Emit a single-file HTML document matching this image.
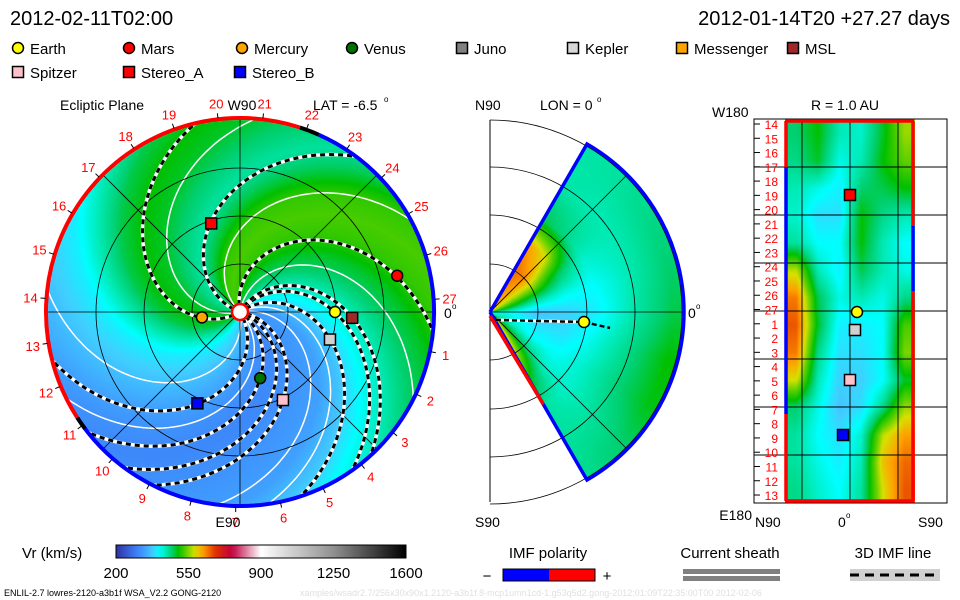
<!DOCTYPE html>
<html><head><meta charset="utf-8">
<style>
body{margin:0;background:#fff;width:960px;height:600px;overflow:hidden;position:relative;font-family:"Liberation Sans",sans-serif}
canvas{position:absolute}
svg{position:absolute;left:0;top:0}
</style></head><body>
<canvas id="cEcl" width="400" height="400" style="left:40px;top:112px"></canvas>
<canvas id="cMer" width="200" height="400" style="left:490px;top:112px"></canvas>
<canvas id="cR" width="130" height="384" style="left:785px;top:119px"></canvas>
<svg id="ov" width="960" height="600"></svg>
<script>
// ---------- data ----------
const speedStops=[200,300,340,380,410,440,470,500,540,580,620,680,760,900,1250,1600];
const colorStops=["#3030a0","#3c80f8","#40a0ff","#40d0ff","#00ffff","#00eab4","#00d070","#00c000","#60d000","#d8e000","#ffa000","#e03000","#c00040","#ffffff","#909090","#000000"];
const profileSpeeds=[330,320,310,320,340,360,380,400,440,480,500,490,470,450,480,520,530,520,490,470,440,410,370,340];
const spiralK=0.55;
const dashedSources=[-160,150,-101,-52,-59,-35,10,35,59,20];
const whiteSources=[-135,168,-80,-25,47,80,-10];
const bodyNames=["Earth","Mars","Mercury","Venus","Kepler","MSL","Spitzer","Stereo_A","Stereo_B"];
const bodyR=[0.99,1.68,0.40,0.72,0.98,1.17,1.02,0.97,1.05];
const bodyPhi=[0,-13,172,73,17,3,64,-108,115];
const bodyFill=["#ffff00","#ff0000","#ffa500","#007000","#d0d0d0","#a02828","#ffc0cb","#ff0000","#0000ff"];
const bodyShape=["c","c","c","c","s","s","s","s","s"];
const merLats=[60,45,30,15,0,-15,-30,-45,-60];
const merRadii=[15,48,77,106,144,182];
const merGrid=[[620,650,620,480,445,445],[600,630,580,460,440,450],[560,550,480,430,440,460],[500,450,420,410,440,470],[420,370,380,400,445,480],[430,390,390,420,460,500],[450,410,410,430,465,495],[520,470,430,430,450,470],[630,580,500,450,450,455]];
const rGrid=[[470,500,440,430,490,560],[460,490,420,440,500,540],[440,420,400,470,480,500],[430,390,390,500,460,440],[450,410,410,500,440,410],[570,440,400,480,440,420],[640,480,420,440,420,460],[660,490,400,400,410,530],[640,460,390,390,410,550],[580,440,380,380,410,490],[470,420,370,390,460,560],[450,410,390,430,570,620],[450,420,400,440,600,650],[460,430,410,450,580,660]];
const rimLabels=["0","1","2","3","4","5","6","7","8","9","10","11","12","13","14","15","16","17","18","19","20","21","22","23","24","25","26","27"];
const rowLabels=["14","15","16","17","18","19","20","21","22","23","24","25","26","27","1","2","3","4","5","6","7","8","9","10","11","12","13"];
const cbTicks=[200,550,900,1250,1600];
// ---------- helpers ----------
function hex(h){return [parseInt(h.substr(1,2),16),parseInt(h.substr(3,2),16),parseInt(h.substr(5,2),16)];}
const cs=colorStops.map(hex);
function cmap(v){
  if(v<=speedStops[0])return cs[0];
  for(let i=1;i<speedStops.length;i++){if(v<=speedStops[i]){const t=(v-speedStops[i-1])/(speedStops[i]-speedStops[i-1]);const a=cs[i-1],b=cs[i];return [a[0]+(b[0]-a[0])*t,a[1]+(b[1]-a[1])*t,a[2]+(b[2]-a[2])*t];}}
  return cs[cs.length-1];
}
function bil(g,fy,fx){
  const ny=g.length,nx=g[0].length;
  fy=Math.max(0,Math.min(ny-1,fy));fx=Math.max(0,Math.min(nx-1,fx));
  const y0=Math.floor(fy),x0=Math.floor(fx),y1=Math.min(ny-1,y0+1),x1=Math.min(nx-1,x0+1);
  const ty=fy-y0,tx=fx-x0;
  return g[y0][x0]*(1-ty)*(1-tx)+g[y0][x1]*(1-ty)*tx+g[y1][x0]*ty*(1-tx)+g[y1][x1]*ty*tx;
}
function interpIdx(arr,v){for(let i=0;i<arr.length-1;i++){const a=arr[i],b=arr[i+1];if((v-a)*(v-b)<=0)return i+(v-a)/(b-a);}return v<arr[0]===(arr[0]<arr[1])?0:arr.length-1;}
// ---------- ecliptic canvas ----------
(function(){
  const c=document.getElementById('cEcl'),ctx=c.getContext('2d'),im=ctx.createImageData(400,400);
  const n=profileSpeeds.length;
  for(let y=0;y<400;y++)for(let x=0;x<400;x++){
    const dx=x-200,dy=y-200,r=Math.hypot(dx,dy);if(r>193)continue;
    let phi=Math.atan2(dy,dx)*180/Math.PI-spiralK*r;phi=((phi%360)+360)%360;
    const f=phi/360*n,i0=Math.floor(f)%n,i1=(i0+1)%n,t=f-Math.floor(f);
    const v=profileSpeeds[i0]*(1-t)+profileSpeeds[i1]*t;
    const col=cmap(v),k=(y*400+x)*4;im.data[k]=col[0];im.data[k+1]=col[1];im.data[k+2]=col[2];im.data[k+3]=255;
  }
  ctx.putImageData(im,0,0);
})();
// ---------- meridional canvas ----------
(function(){
  const c=document.getElementById('cMer'),ctx=c.getContext('2d'),im=ctx.createImageData(200,400);
  for(let y=0;y<400;y++)for(let x=0;x<200;x++){
    const dx=x,dy=200-y,r=Math.hypot(dx,dy);if(r>193||r<2)continue;
    const lat=Math.atan2(dy,dx)*180/Math.PI;if(Math.abs(lat)>60)continue;
    const v=bil(merGrid,(60-lat)/15,interpIdx(merRadii,r));
    const col=cmap(v),k=(y*200+x)*4;im.data[k]=col[0];im.data[k+1]=col[1];im.data[k+2]=col[2];im.data[k+3]=255;
  }
  ctx.putImageData(im,0,0);
})();
// ---------- R canvas ----------
(function(){
  const c=document.getElementById('cR'),ctx=c.getContext('2d'),im=ctx.createImageData(130,384);
  const ny=rGrid.length,nx=rGrid[0].length;
  for(let y=0;y<384;y++)for(let x=0;x<130;x++){
    const v=bil(rGrid,(y/384)*ny-0.5,(x/130)*nx-0.5);
    const col=cmap(v),k=(y*130+x)*4;im.data[k]=col[0];im.data[k+1]=col[1];im.data[k+2]=col[2];im.data[k+3]=255;
  }
  ctx.putImageData(im,0,0);
})();
// ---------- overlay SVG ----------
const NS="http://www.w3.org/2000/svg",svg=document.getElementById('ov');
function el(tag,attrs,parent){const e=document.createElementNS(NS,tag);for(const k in attrs)e.setAttribute(k,attrs[k]);(parent||svg).appendChild(e);return e;}
function txt(x,y,s,size,fill,anchor,name){const t=el('text',{x:x,y:y,'font-size':size,fill:fill||'#000','text-anchor':anchor||'start','font-family':'Liberation Sans, sans-serif'});t.textContent=s;


return t;}
const CX=240,CY=312,RR=193,AU=96;
const dd=Math.PI/180;
const defs=el('defs',{});const cp=el('clipPath',{id:'diskclip'},defs);el('circle',{cx:CX,cy:CY,r:RR},cp);
const g=el('g',{'clip-path':'url(#diskclip)'});


function spiral(phi0){let d="";for(let r=7;r<=200;r+=3){const a=(phi0+spiralK*r)*dd;d+=(r===7?"M":"L")+(CX+r*Math.cos(a)).toFixed(1)+","+(CY+r*Math.sin(a)).toFixed(1);}return d;}
whiteSources.forEach(p=>{const l=el('path',{d:spiral(p),fill:'none',stroke:'#fff','stroke-width':1.5},g);

});
[48,96,144].forEach(r=>{const c=el('circle',{cx:CX,cy:CY,r:r,fill:'none',stroke:'#000','stroke-width':0.8},g);

});
[0,45,90,135].forEach(a=>{const l=el('line',{x1:CX-RR*Math.cos(a*dd),y1:CY-RR*Math.sin(a*dd),x2:CX+RR*Math.cos(a*dd),y2:CY+RR*Math.sin(a*dd),stroke:'#000','stroke-width':0.8},g);

});
dashedSources.forEach(p=>{
  const w=el('path',{d:spiral(p),fill:'none',stroke:'#fff','stroke-width':3.5},g);
  
  
  const b=el('path',{d:spiral(p),fill:'none',stroke:'#000','stroke-width':3,'stroke-dasharray':'5,4'},g);
  
  
});
function arc(a0,a1,color){const r=RR+1;const p=el('path',{d:`M${CX+r*Math.cos(a0*dd)},${CY+r*Math.sin(a0*dd)} A${r},${r} 0 ${(a1-a0)>180?1:0} 1 ${CX+r*Math.cos(a1*dd)},${CY+r*Math.sin(a1*dd)}`,fill:'none',stroke:color,'stroke-width':4});

}
arc(147,288,'#ff0000');arc(288,294,'#000');arc(294,507,'#0000ff');arc(143,147,'#000');
const sun=el('circle',{cx:CX,cy:CY,r:8,fill:'#fff',stroke:'#ff0000','stroke-width':2.5});


rimLabels.forEach((s,i)=>{if(i===0)return;const a=(i*13.25-1.5)*dd;txt(CX+210*Math.cos(a),CY+210*Math.sin(a)+5,s,13,'#ff0000','middle','rim-label-'+s);
 const tk=el('line',{x1:CX+195*Math.cos(a),y1:CY+195*Math.sin(a),x2:CX+200*Math.cos(a),y2:CY+200*Math.sin(a),stroke:'#000','stroke-width':1});
 });
txt(444,318,'0',14,'#000','start','zero-label');txt(452,309,'o',8,'#000','start','deg');
bodyNames.forEach((n,i)=>{
  const a=bodyPhi[i]*dd,x=CX+bodyR[i]*AU*Math.cos(a),y=CY+bodyR[i]*AU*Math.sin(a);
  let m;
  if(bodyShape[i]==='c')m=el('circle',{cx:x,cy:y,r:5.5,fill:bodyFill[i],stroke:'#000','stroke-width':1.5});
  else m=el('rect',{x:x-5.5,y:y-5.5,width:11,height:11,fill:bodyFill[i],stroke:'#000','stroke-width':1.5});
  
  
});
// ---- meridional panel ----
const MX=490,MY=312;
el('line',{x1:MX,y1:120,x2:MX,y2:502,stroke:'#000','stroke-width':1});
[48,97,145,192].forEach(r=>{const p=el('path',{d:`M${MX},${MY-r} A${r},${r} 0 0 1 ${MX},${MY+r}`,fill:'none',stroke:'#000','stroke-width':0.8});

});
[45,0,-45].forEach(a=>{const l=el('line',{x1:MX,y1:MY,x2:MX+193*Math.cos(a*dd),y2:MY-193*Math.sin(a*dd),stroke:'#000','stroke-width':0.8});

});
(function(){const r=194,a=60*dd;
const p=el('path',{d:`M${MX},${MY} L${MX+r*Math.cos(a)},${MY-r*Math.sin(a)} A${r},${r} 0 0 1 ${MX+r*Math.cos(a)},${MY+r*Math.sin(a)} L${MX},${MY}`,fill:'none',stroke:'#0000ff','stroke-width':3.5});


const q=el('line',{x1:MX,y1:MY+4,x2:MX+r*Math.cos(a)*0.55,y2:MY+r*Math.sin(a)*0.55,stroke:'#ff0000','stroke-width':3.5});

})();
const mw=el('path',{d:`M${MX+6},${MY+8} L${MX+94},${MY+10}`,stroke:'#fff','stroke-width':3,fill:'none'});

const md=el('path',{d:`M${MX+6},${MY+8} L${MX+94},${MY+10} L${MX+120},${MY+16}`,stroke:'#000','stroke-width':2.5,'stroke-dasharray':'5,3',fill:'none'});

const me=el('circle',{cx:584,cy:322,r:5.5,fill:'#ff0',stroke:'#000','stroke-width':1.5});

txt(688,318,'0',14,'#000','start','zero-label');txt(696,309,'o',8,'#000','start','deg');
// ---- R panel ----
const fr=el('rect',{x:754,y:119,width:193,height:384,fill:'none',stroke:'#000','stroke-width':1});

[802,850,898].forEach(x=>{const l=el('line',{x1:x,y1:119,x2:x,y2:503,stroke:'#000','stroke-width':0.9});});
[167,215,263,311,359,407,455].forEach(y=>{const l=el('line',{x1:754,y1:y,x2:947,y2:y,stroke:'#000','stroke-width':0.9});});
function seg(x1,y1,x2,y2,c){const l=el('line',{x1:x1,y1:y1,x2:x2,y2:y2,stroke:c,'stroke-width':3.5});}
seg(785,121,914,121,'#f00');seg(785,501,914,501,'#f00');
seg(786,121,786,167,'#f00');seg(786,167,786,414,'#00f');seg(786,414,786,501,'#f00');
seg(913,121,913,226,'#f00');seg(913,226,913,291,'#00f');seg(913,291,913,501,'#f00');
rowLabels.forEach((s,i)=>{const y=124+i*14.27;txt(778,y+5,s,12,'#f00','end','row-label-'+s);const t=el('line',{x1:754,y1:y,x2:760,y2:y,stroke:'#000'});});
[["s",850,195,"#f00"],["c",857,312,"#ff0"],["s",855,330,"#d0d0d0"],["s",850,380,"#ffc0cb"],["s",843,435,"#00f"]].forEach(b=>{
 let m=b[0]==='c'?el('circle',{cx:b[1],cy:b[2],r:5.5,fill:b[3],stroke:'#000','stroke-width':1.5}):el('rect',{x:b[1]-5.5,y:b[2]-5.5,width:11,height:11,fill:b[3],stroke:'#000','stroke-width':1.5});
 });
// ---- titles ----
txt(10,25,'2012-02-11T02:00',20,'#000','start','sim-time');
txt(950,25,'2012-01-14T20 +27.27 days',20,'#000','end','run-info');
txt(60,110,'Ecliptic Plane',14,'#000','start','ecliptic-title');
txt(242,110,'W90',14,'#000','middle','w90-label');
txt(313,110,'LAT = -6.5',14,'#000','start','lat-label');txt(384,102,'o',8,'#000','start','deg');
txt(228,527,'E90',14,'#000','middle','e90-label');
txt(475,110,'N90',14,'#000','start','n90-label');
txt(540,110,'LON = 0',14,'#000','start','lon-label');txt(597,102,'o',8,'#000','start','deg');
txt(475,527,'S90',14,'#000','start','s90-label');
txt(712,117,'W180',14,'#000','start','w180-label');
txt(845,110,'R = 1.0 AU',14,'#000','middle','r-title');
txt(752,520,'E180',14,'#000','end','e180-label');
txt(755,527,'N90',14,'#000','start','n90-r-label');
txt(838,527,'0',14,'#000','start','zero-r-label');txt(846,518,'o',8,'#000','start','deg');
txt(918,527,'S90',14,'#000','start','s90-r-label');
// legend
const legNames=["Earth","Mars","Mercury","Venus","Juno","Kepler","Messenger","MSL","Spitzer","Stereo_A","Stereo_B"];
const legFill=["#ff0","#f00","#ffa500","#007000","#808080","#d8d8d8","#ffa500","#a02828","#ffc0cb","#f00","#00f"];
const legShape=["c","c","c","c","s","s","s","s","s","s","s"];
const legX=[18,129,242,352,462,573,682,793,18,129,240];
const legY=[48,48,48,48,48,48,48,48,72,72,72];
legNames.forEach((n,i)=>{
 let m=legShape[i]==='c'?el('circle',{cx:legX[i],cy:legY[i],r:5.5,fill:legFill[i],stroke:'#000','stroke-width':1.5}):el('rect',{x:legX[i]-5.5,y:legY[i]-5.5,width:11,height:11,fill:legFill[i],stroke:'#000','stroke-width':1.5});
 
 txt(legX[i]+12,legY[i]+6,n,15,'#000','start','legend-entry-'+n.toLowerCase());
});
// colorbar
const lg=el('linearGradient',{id:'cbg',x1:0,x2:1,y1:0,y2:0},defs);
for(let v=200;v<=1600;v+=25){const c=cmap(v);el('stop',{offset:(v-200)/1400,'stop-color':`rgb(${c.map(Math.round).join(',')})`},lg);}
const cb=el('rect',{x:116,y:545,width:290,height:13,fill:'url(#cbg)',stroke:'#000','stroke-width':1});

txt(22,558,'Vr (km/s)',15,'#000','start','colorbar-title');
cbTicks.forEach(v=>txt(116+(v-200)/1400*290,578,String(v),15,'#000','middle','colorbar-tick-'+v));
txt(548,558,'IMF polarity',15,'#000','middle','imf-polarity-title');
const b1=el('rect',{x:503,y:569,width:46,height:12,fill:'#00f'});
const b2=el('rect',{x:549,y:569,width:46,height:12,fill:'#f00'});
const b3=el('rect',{x:503,y:569,width:92,height:12,fill:'none',stroke:'#000'});
txt(487,581,'−',15,'#000','middle','minus');txt(607,581,'+',15,'#000','middle','plus');
txt(730,558,'Current sheath',15,'#000','middle','current-sheath-title');
const s1=el('rect',{x:683,y:569,width:97,height:5,fill:'#808080'});
const s2=el('rect',{x:683,y:576,width:97,height:5,fill:'#808080'});
txt(893,558,'3D IMF line',15,'#000','middle','imf-line-title');
const s3=el('rect',{x:850,y:569,width:90,height:12,fill:'#d0d0d0'});
const s4=el('line',{x1:850,y1:575,x2:940,y2:575,stroke:'#000','stroke-width':3,'stroke-dasharray':'9,6'});
txt(4,596,'ENLIL-2.7 lowres-2120-a3b1f WSA_V2.2 GONG-2120',9,'#000','start','model-info');
txt(300,596,'xamples/wsadr2.7/256x30x90x1.2120-a3b1f.8-mcp1umn1cd-1.g53q5d2.gong-2012:01:09T22:35:00T00    2012-02-06',9,'#e0e0e0','start','run-path');
</script>
</body></html>
